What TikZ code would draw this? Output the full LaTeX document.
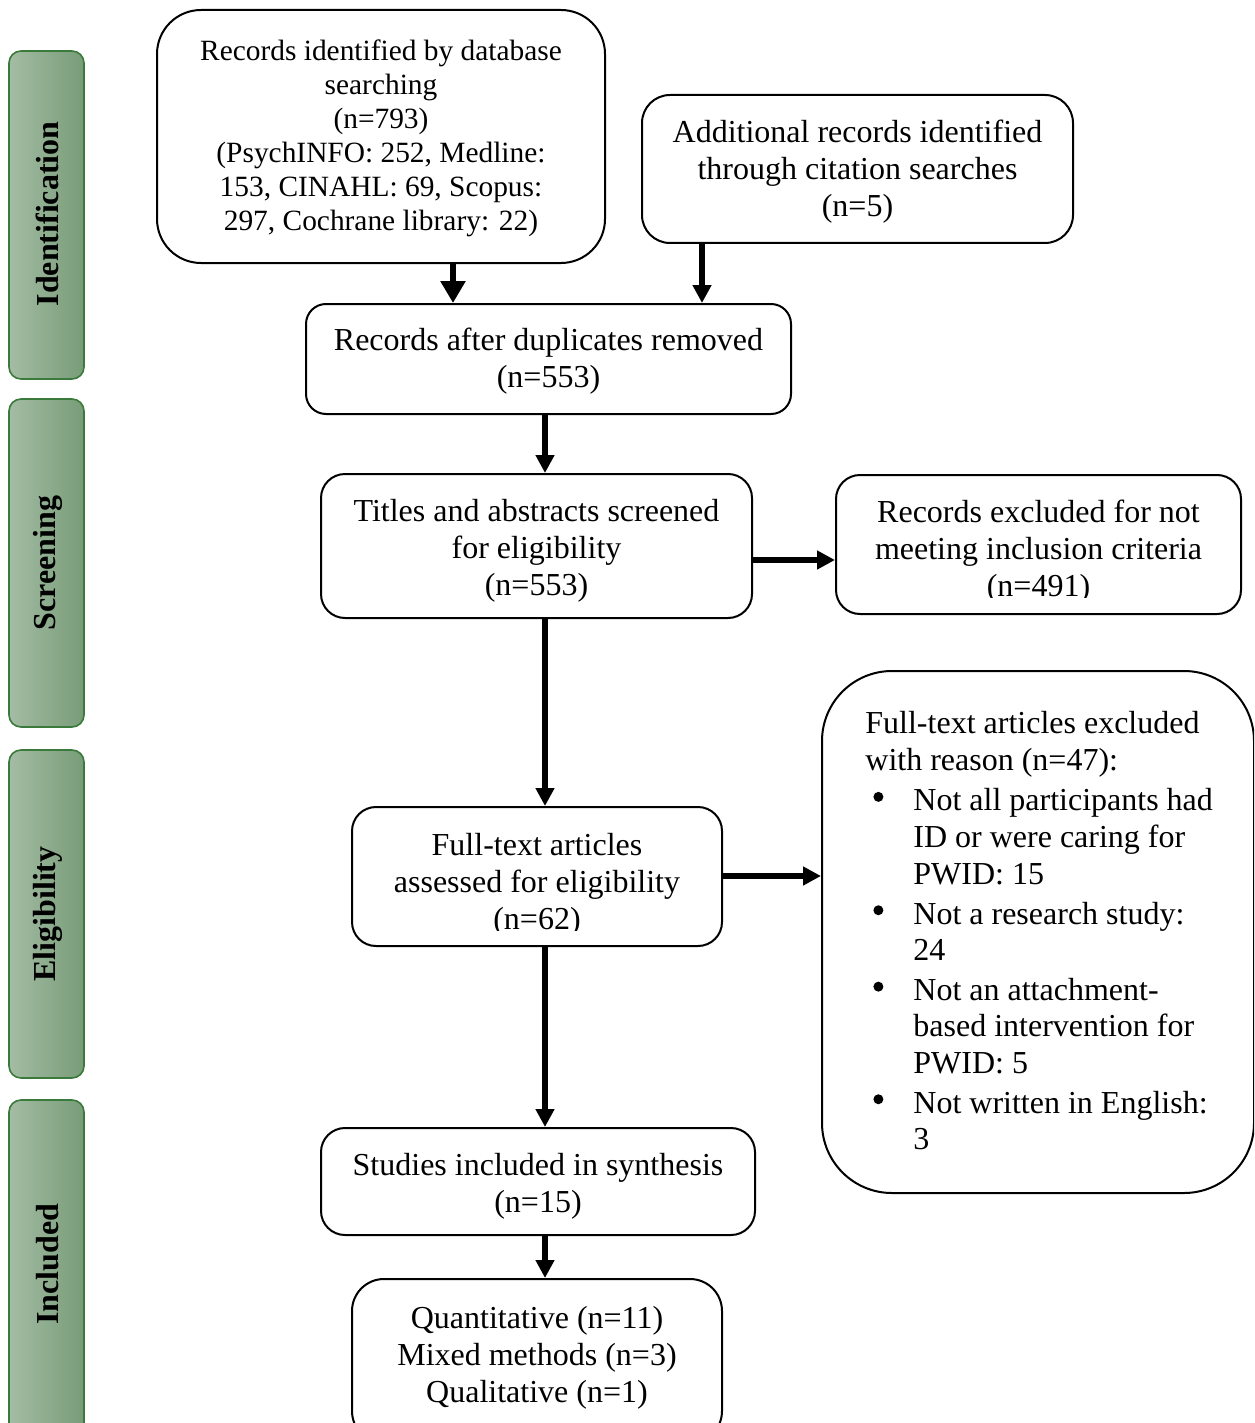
\documentclass[tikz,border=0pt]{standalone}
\usepackage{fontspec}
\setmainfont{Liberation Serif}
\usetikzlibrary{arrows.meta,calc}
\newcommand{\bigsz}{\fontsize{16}{18.5}\selectfont}
\newcommand{\listsz}{\fontsize{16}{18.1}\selectfont}
\newcommand{\smsz}{\fontsize{14.7}{17}\selectfont}
\newcommand{\bul}{\makebox[24pt][l]{\hspace{4pt}\raisebox{0.28em}{\tikz[x=1pt,y=1pt]\fill (0,0) circle (2.5pt);}}}
\newcommand{\ind}{\hspace*{24pt}}
\definecolor{barL}{HTML}{A4BCA4}
\definecolor{barR}{HTML}{789C78}
\definecolor{barB}{HTML}{3A7A3A}
\begin{document}
\begin{tikzpicture}[x=0.5pt,y=-0.5pt,
  box/.style={draw, line width=1pt, align=center, font=\bigsz, inner sep=0pt},
  arr/.style={line width=2.6pt, -{Triangle[width=9pt,length=9pt]}},
  phase/.style={draw=barB, line width=0.8pt, rounded corners=6pt, left color=barL, right color=barR},
  phtext/.style={rotate=90, font=\bfseries\fontsize{16}{18}\selectfont}]
\clip (0,0) rectangle (1254,1423);
\fill[white] (0,0) rectangle (1254,1423);

% phase bars
\shade[phase] (9,51) rectangle (84,379);
\shade[phase] (9,399) rectangle (84,727);
\shade[phase] (9,750) rectangle (84,1078);
\shade[phase] (9,1100) rectangle (84,1440);
\node[phtext] (p1) at (47.5,214) {Identification};
\node[phtext] (p2) at (47.5,563) {Screening};
\node[phtext] (p3) at (47.5,914) {Eligibility};
\node[phtext] (p4) at (47.5,1264) {Included};

% boxes
\node[box, font=\smsz, rounded corners=22pt, minimum width=224pt, minimum height=126.5pt] (db) at (381,136.5) {};
\node[font=\smsz, align=center] (dbt) at (381,138)
  {Records identified by database\\ searching\\ (n=793)\\ (PsychINFO: 252, Medline:\\ 153, CINAHL: 69, Scopus:\\ 297, Cochrane library: 22)};
\node[box, rounded corners=14pt, minimum width=215.5pt, minimum height=74pt] (add) at (857.5,169) {};
\node[font=\bigsz, align=center] (addt) at (857.5,172) {Additional records identified\\ through citation searches\\ (n=5)};
\node[box, rounded corners=10pt, minimum width=242.5pt, minimum height=55pt] (dup) at (548.5,359) {};
\node[font=\bigsz, align=center] (dupt) at (548.5,361) {Records after duplicates removed\\ (n=553)};
\node[box, rounded corners=12pt, minimum width=215.5pt, minimum height=72pt] (scr) at (536.5,546) {};
\node[font=\bigsz, align=center] (scrt) at (536.5,551) {Titles and abstracts screened\\ for eligibility\\ (n=553)};
\node[box, rounded corners=12pt, minimum width=202.5pt, minimum height=69.5pt] (exc) at (1038.5,544.5) {};
\begin{scope}
\clip (836,476) rectangle (1241,597);
\node[font=\bigsz, align=center] (exct) at (1038.5,552) {Records excluded for not\\ meeting inclusion criteria\\ (n=491)};
\end{scope}
\node[box, rounded corners=12pt, minimum width=185pt, minimum height=69.5pt] (ft) at (537,876.5) {};
\begin{scope}
\clip (353,808) rectangle (721,930);
\node[font=\bigsz, align=center] (ftt) at (537,885) {Full-text articles\\ assessed for eligibility\\ (n=62)};
\end{scope}
\node[box, rounded corners=35pt, minimum width=216pt, minimum height=261pt] (fte) at (1038,932) {};
\node[font=\listsz, align=left, anchor=north west, inner sep=0pt] (ftet) at (865,711)
  {Full-text articles excluded\\[0.4pt] with reason (n=47):\\[2pt]
   \bul Not all participants had\\[0.4pt] \ind ID or were caring for\\ \ind PWID: 15\\[2pt]
   \bul Not a research study:\\ \ind 24\\[2pt]
   \bul Not an attachment-\\ \ind based intervention for\\ \ind PWID: 5\\[2pt]
   \bul Not written in English:\\ \ind 3};
\node[box, rounded corners=12pt, minimum width=217pt, minimum height=53.5pt] (inc) at (538,1181.5) {};
\node[font=\bigsz, align=center] (inct) at (538,1186) {Studies included in synthesis\\ (n=15)};
\node[box, rounded corners=16pt, minimum width=185pt, minimum height=82pt] (typ) at (537,1361) {};
\node[font=\bigsz, align=center] (typt) at (537,1358) {Quantitative (n=11)\\ Mixed methods (n=3)\\ Qualitative (n=1)};

% arrows
\coordinate (x1) at (453,0);
\coordinate (x2) at (702,0);
\coordinate (x3) at (545,0);
\draw[arr, line width=3pt, -{Triangle[width=12pt,length=11pt]}] (x1 |- db.south) -- (x1 |- dup.north);
\draw[arr] (x2 |- add.south) -- (x2 |- dup.north);
\draw[arr] (x3 |- dup.south) -- (x3 |- scr.north);
\draw[arr] (scr.east |- 0,560) -- (exc.west |- 0,560);
\draw[arr] (x3 |- scr.south) -- (x3 |- ft.north);
\draw[arr] (ft.east |- 0,876) -- (fte.west |- 0,876);
\draw[arr] (x3 |- ft.south) -- (x3 |- inc.north);
\draw[arr] (x3 |- inc.south) -- (x3 |- typ.north);
\end{tikzpicture}
\end{document}
